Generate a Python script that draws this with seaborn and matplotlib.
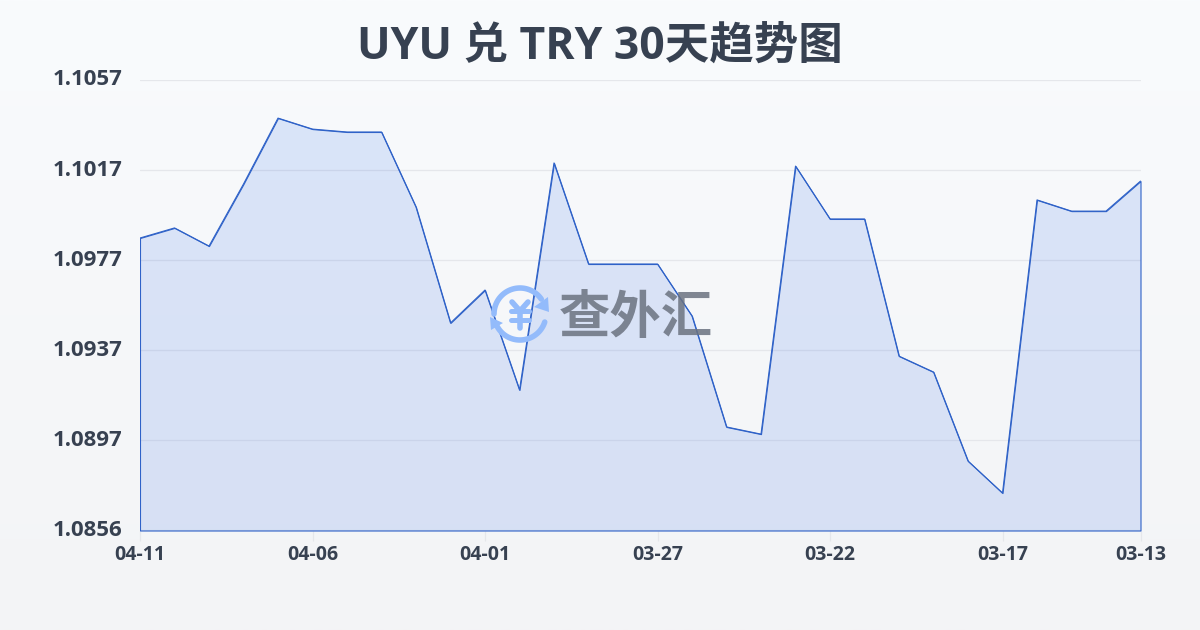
import numpy as np
import pandas as pd
import matplotlib
matplotlib.use("Agg")
import matplotlib.pyplot as plt
from matplotlib.patches import Polygon
import seaborn as sns

dates = ["04-11","04-10","04-09","04-08","04-07","04-06","04-05","04-04","04-03","04-02",
         "04-01","03-31","03-30","03-29","03-28","03-27","03-26","03-25","03-24","03-23",
         "03-22","03-21","03-20","03-19","03-18","03-17","03-16","03-15","03-14","03-13"]
rates = [1.09865,1.09910,1.09829,1.10106,1.10400,1.10351,1.10338,1.10338,1.10003,1.09486,
         1.09633,1.09187,1.10200,1.09749,1.09749,1.09749,1.09517,1.09022,1.08990,1.10186,
         1.09950,1.09950,1.09338,1.09267,1.08870,1.08727,1.10035,1.09985,1.09985,1.10119]
x_labels = ["04-11","04-06","04-01","03-27","03-22","03-17","03-13"]
y_labels = ["1.0856","1.0897","1.0937","1.0977","1.1017","1.1057"]
title = "UYU 兑 TRY 30天趋势图"
watermark = "查外汇"

sns.set_theme(style="white")
plt.rcParams['font.family'] = ['Open Sans', 'Noto Sans CJK SC', 'DejaVu Sans']
TXT = "#374151"

df = pd.DataFrame({"date": dates, "rate": rates, "pos": range(len(dates))})
fig = plt.figure(figsize=(12, 6.3), dpi=100)

# background gradient
bg = fig.add_axes([0, 0, 1, 1], zorder=0)
bg.axis("off")
grad = np.linspace(0, 1, 256)[:, None, None]
top = np.array([0xf9, 0xfb, 0xfd]) / 255
bot = np.array([0xf3, 0xf4, 0xf6]) / 255
bg.imshow(top + (bot - top) * grad, aspect="auto", extent=[0, 1, 0, 1], origin="upper")

ax = fig.add_axes([140/1200, 1 - 530.5/630, 1000.5/1200, 450.5/630], zorder=1)
ax.patch.set_alpha(0)
lo, hi = 1.0856, 1.1057
ax.set_xlim(0, len(dates) - 1)
ax.set_ylim(lo, hi)
LINE = "#2f62c8"
ax.fill_between(df["pos"], df["rate"], lo, facecolor=(0.16, 0.40, 0.90, 0.14),
                edgecolor=LINE, linewidth=0.8, zorder=2)
sns.lineplot(data=df, x="pos", y="rate", ax=ax, color=LINE, linewidth=0.8, zorder=3)
ax.set_xlabel(""); ax.set_ylabel("")

yt = np.linspace(lo, hi, 6)
ax.set_yticks(yt)
ax.set_yticklabels(y_labels, fontsize=16, fontweight="bold", color=TXT, ha="left")
ax.tick_params(axis="y", length=0, pad=63)
for lab in ax.get_yticklabels():
    lab.set_verticalalignment("center")
ax.yaxis.grid(True, color="#e5e7eb", linewidth=0.9, zorder=1)
ax.set_axisbelow(True)

xt = [dates.index(d) for d in x_labels]
ax.set_xticks(xt)
ax.set_xticklabels(x_labels, fontsize=14, fontweight="bold", color=TXT)
ax.tick_params(axis="x", length=7, width=0.9, color="#e5e7eb", pad=3.2, bottom=True)
for s in ax.spines.values():
    s.set_visible(False)

fig.text(0.5, 1 - 47.5/630, title, ha="center", va="center", fontsize=32,
         fontweight="bold", color=TXT)

# watermark in pixel coordinates
ov = fig.add_axes([0, 0, 1, 1], zorder=5)
ov.set_xlim(0, 1200); ov.set_ylim(630, 0)
ov.axis("off"); ov.patch.set_alpha(0)
BLUE = "#93bbfb"
cx, cy, r = 520, 314, 26
def arc(a0, a1):
    t = np.radians(np.linspace(a0, a1, 60))
    ov.plot(cx + r*np.cos(t), cy + r*np.sin(t), color=BLUE, lw=4, solid_capstyle="round")
arc(180, 325)
arc(18, 158)
ov.add_patch(Polygon([[548, 297], [549, 312], [534, 307]], closed=True, color=BLUE, lw=0))
ov.add_patch(Polygon([[490, 317], [491, 330], [503, 323]], closed=True, color=BLUE, lw=0))
ov.plot([512, 520, 528], [302, 311, 302], color=BLUE, lw=4, solid_capstyle="round", solid_joinstyle="round")
ov.plot([520, 520], [311, 328], color=BLUE, lw=4, solid_capstyle="round")
ov.plot([511, 529], [311, 311], color=BLUE, lw=3.6, solid_capstyle="round")
ov.plot([511, 529], [320, 320], color=BLUE, lw=3.6, solid_capstyle="round")
ov.text(636, 320, watermark, ha="center", va="center", fontsize=37, fontweight="bold",
        color="#6b7280", alpha=0.85)

fig.savefig("out.png", dpi=100)
